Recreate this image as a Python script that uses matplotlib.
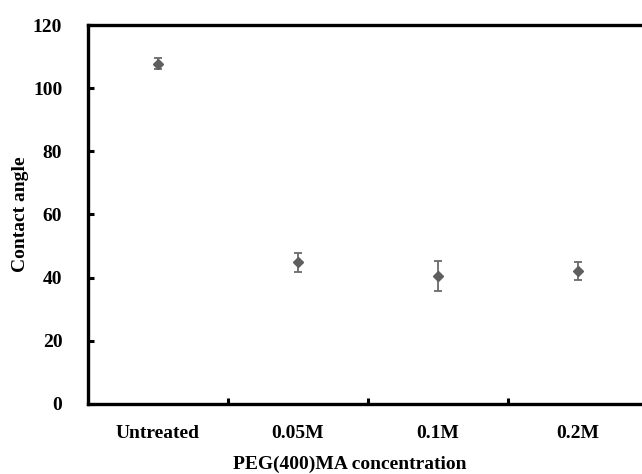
import matplotlib
matplotlib.use("Agg")
import matplotlib.pyplot as plt
from matplotlib.ticker import FixedLocator, NullFormatter

categories = ["Untreated", "0.05M", "0.1M", "0.2M"]
contact_angle = [107.8, 44.8, 40.6, 42.1]
errors = [1.7, 3.1, 4.7, 3.0]
y_ticks = [0, 20, 40, 60, 80, 100, 120]

plt.rcParams['font.family'] = ['Liberation Serif', 'DejaVu Serif']
plt.rcParams['font.weight'] = 'bold'

FS = 14

fig = plt.figure(figsize=(6.42, 4.74), dpi=100)
ax = fig.add_axes([0.137, 0.148, 0.872, 0.799])

xpos = [i + 0.5 for i in range(len(categories))]
ax.errorbar(xpos, contact_angle, yerr=errors, fmt='D', color='#5f5f5f',
            ecolor='#6a6a6a', markersize=5.5, capsize=3, elinewidth=1.3,
            capthick=1.3)

ax.set_xlim(0, len(categories))
ax.set_ylim(0, 120)
ax.set_yticks(y_ticks)
ax.set_yticklabels([str(t) for t in y_ticks], fontsize=FS, fontweight='bold')

ax.xaxis.set_major_locator(FixedLocator([1, 2, 3]))
ax.xaxis.set_major_formatter(NullFormatter())
ax.xaxis.set_minor_locator(FixedLocator(xpos))
ax.set_xticklabels(categories, minor=True, fontsize=FS, fontweight='bold')
ax.tick_params(axis='x', which='major', direction='in', length=4, width=2.2)
ax.tick_params(axis='x', which='minor', length=0, pad=15.5)
ax.tick_params(axis='y', direction='in', length=4, width=2.2, pad=18.5)

for s in ax.spines.values():
    s.set_linewidth(2.4)

ax.set_xlabel("PEG(400)MA concentration", fontsize=FS, fontweight='bold', labelpad=9.5)
ax.xaxis.label.set_x(0.468)
ax.set_ylabel("Contact angle", fontsize=FS, fontweight='bold', labelpad=3)

fig.savefig("out.png", dpi=100)
